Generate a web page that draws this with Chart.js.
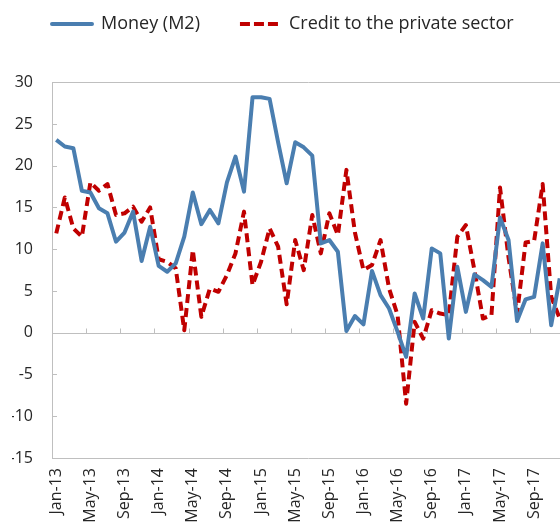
<!DOCTYPE html>
<html>
<head>
<meta charset="utf-8">
<script src="https://cdn.jsdelivr.net/npm/chart.js@4"></script>
<style>
  html, body { margin: 0; padding: 0; background: #fff; overflow: hidden; }
  #wrap { position: relative; width: 605px; height: 531px; }
</style>
</head>
<body>
<div id="wrap"><canvas id="chart"></canvas></div>
<script>
// monthly categories Jan-13 .. Dec-17
const years = ['13', '14', '15', '16', '17'];
const monthNames = ['Jan', 'Feb', 'Mar', 'Apr', 'May', 'Jun', 'Jul', 'Aug', 'Sep', 'Oct', 'Nov', 'Dec'];
const labels = [];
years.forEach(y => monthNames.forEach(m => labels.push(m + '-' + y)));

// growth rates, %
const money = [
  23.1, 22.3, 22.1, 17.0, 16.8, 14.9, 14.3, 10.9, 12.0, 14.5, 8.6, 12.7,
  8.0, 7.3, 8.3, 11.5, 16.8, 13.0, 14.7, 13.1, 18.0, 21.1, 16.9, 28.2,
  28.2, 28.0, 22.8, 17.9, 22.8, 22.2, 21.2, 10.7, 11.1, 9.7, 0.2, 2.0,
  1.0, 7.4, 4.5, 2.9, 0.1, -2.9, 4.7, 1.7, 10.1, 9.5, -0.7, 7.9,
  2.5, 7.0, 6.3, 5.5, 13.8, 11.1, 1.4, 4.0, 4.3, 10.7, 0.9, 6.5
];
const credit = [
  11.9, 16.2, 12.5, 11.5, 18.0, 17.0, 17.8, 14.1, 14.3, 15.1, 13.3, 15.0,
  8.8, 8.5, 7.7, 0.3, 9.9, 1.9, 5.3, 4.9, 6.9, 9.5, 14.5, 5.7,
  8.5, 12.5, 10.3, 3.4, 11.1, 7.5, 14.1, 9.5, 14.3, 11.7, 19.5, 12.0,
  7.5, 8.1, 11.1, 5.3, 2.1, -8.5, 1.3, -0.7, 2.7, 2.3, 2.1, 11.5,
  12.9, 7.5, 1.7, 2.1, 17.4, 9.0, 2.3, 10.8, 11.0, 17.8, 4.3, 1.7
];
const yMin = -15, yMax = 30, yStep = 5;

const axisColor = '#bfbfbf';
const textColor = '#262626';

// Excel-like frame: box, zero line with upward ticks, inner ticks on y axis
const excelFrame = {
  id: 'excelFrame',
  beforeDatasetsDraw(chart) {
    const { ctx, chartArea: a, scales: { x, y } } = chart;
    ctx.save();
    ctx.strokeStyle = axisColor;
    ctx.lineWidth = 1;
    ctx.beginPath();
    ctx.rect(Math.round(a.left) + 0.5, Math.round(a.top) + 0.5,
      Math.round(a.right - a.left), Math.round(a.bottom - a.top));
    const y0 = Math.round(y.getPixelForValue(0)) + 0.5;
    ctx.moveTo(a.left, y0);
    ctx.lineTo(a.right, y0);
    for (let i = 4; i < labels.length; i += 4) {
      const bx = Math.round((x.getPixelForValue(i - 1) + x.getPixelForValue(i)) / 2) + 0.5;
      ctx.moveTo(bx, y0);
      ctx.lineTo(bx, y0 - 5);
    }
    for (let v = yMin; v <= yMax; v += yStep) {
      const ty = Math.round(y.getPixelForValue(v)) + 0.5;
      ctx.moveTo(a.left, ty);
      ctx.lineTo(a.left + 5, ty);
    }
    ctx.stroke();
    ctx.restore();
  }
};

new Chart(document.getElementById('chart'), {
  type: 'line',
  data: {
    labels: labels,
    datasets: [{
      label: 'Money (M2)',
      data: money,
      borderColor: '#4a7eb0',
      backgroundColor: '#4a7eb0',
      borderWidth: 4,
      borderCapStyle: 'butt',
      borderJoinStyle: 'round',
      pointRadius: 0,
      tension: 0
    }, {
      label: 'Credit to the private sector',
      data: credit,
      borderColor: '#c00000',
      backgroundColor: '#c00000',
      borderWidth: 4,
      borderDash: [9, 5],
      borderCapStyle: 'butt',
      borderJoinStyle: 'round',
      pointRadius: 0,
      tension: 0
    }]
  },
  options: {
    responsive: true,
    maintainAspectRatio: false,
    animation: false,
    layout: { padding: { left: 12, right: 41, top: -25, bottom: 0 } },
    plugins: {
      legend: {
        position: 'top',
        align: 'start',
        weight: 3000,
        labels: {
          boxWidth: 40,
          boxHeight: 0,
          padding: 40,
          color: textColor,
          font: { family: 'Open Sans', size: 18 }
        }
      },
      // blank spacer between legend and plot
      subtitle: {
        display: true,
        text: ' ',
        weight: 500,
        font: { size: 1 },
        padding: { top: 19, bottom: 19 }
      },
      tooltip: { enabled: false }
    },
    scales: {
      x: {
        type: 'category',
        offset: true,
        grid: { display: false, drawTicks: false },
        border: { display: false },
        ticks: {
          autoSkip: false,
          maxRotation: 90,
          minRotation: 90,
          padding: 10,
          color: textColor,
          font: { family: 'Open Sans', size: 16 },
          callback: (v, i) => (i % 4 === 0 ? labels[i] : null)
        },
        afterFit: s => { s.height = 73; }
      },
      y: {
        min: yMin,
        max: yMax,
        grid: { display: false, drawTicks: false },
        border: { display: false },
        ticks: {
          stepSize: yStep,
          padding: 19,
          color: textColor,
          font: { family: 'Open Sans', size: 16 }
        },
        afterFit: s => { s.width = 40; }
      }
    }
  },
  plugins: [excelFrame]
});
</script>
</body>
</html>
